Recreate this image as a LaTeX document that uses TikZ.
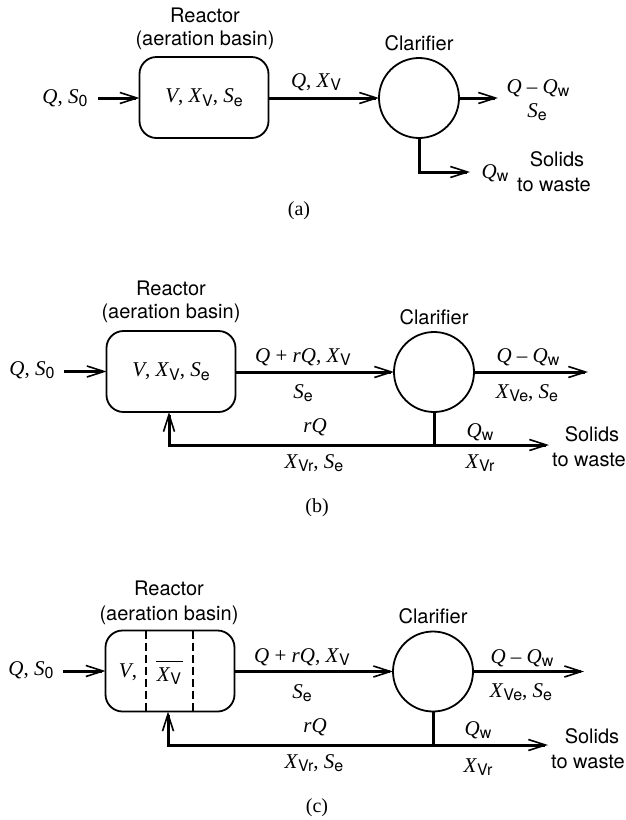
\documentclass[tikz,border=0pt]{standalone}
\usepackage{fontspec}
\setmainfont{Liberation Serif}
\newfontfamily\hv{TeX Gyre Heros}
\usetikzlibrary{arrows.meta}
\newcommand{\mi}[1]{\textit{#1}}
\newcommand{\subs}[1]{\raisebox{-3.5pt}{\hv\fontsize{16}{16}\selectfont #1}}
\newcommand{\obar}[1]{\setbox0\hbox{#1}\rlap{\hspace{-1pt}\raisebox{19pt}{\rule{\dimexpr\wd0+3pt\relax}{1.3pt}}}\box0}
\tikzset{
  every node/.style={inner sep=0pt, outer sep=0pt},
  ml/.style={font=\fontsize{21}{24}\selectfont},
  sl/.style={font=\hv\fontsize{20}{22}\selectfont},
  partlabel/.style={font=\fontsize{20}{22}\selectfont},
  reactor/.style={draw, line width=1.8pt, rounded corners=17pt, minimum width=129pt, minimum height=81pt},
  clar/.style={draw, circle, line width=1.8pt, minimum size=80pt},
  flow/.style={line width=3pt, -{Straight Barb[length=17pt,width=11pt,line width=1.6pt]}},
  pipe/.style={line width=3pt},
  part/.style={dash pattern=on 8pt off 4pt, line width=1.3pt}
}
\begin{document}
\begin{tikzpicture}[x=1pt,y=-1pt]
\useasboundingbox (0,0) rectangle (626,820);
% ---------------- (a)
\node[reactor, ml] (ra) at (204,97.5) {\mi{V}, \mi{X}\subs{V}, \mi{S}\subs{e}};
\node[sl] (ra1) at (205,15) {Reactor};
\node[sl] (ra2) at (205,40) {(aeration basin)};
\node[clar] (ca) at (419,98) {};
\node[sl] (cal) at (419,43) {Clarifier};
\coordinate (ia) at (98,98);
\node[ml] (qa) at (65,98) {\mi{Q}, \mi{S}\subs{0}};
\draw[flow] (ia) -- (ra.west |- ia);
\draw[flow] (ra.east |- ca) -- (ca.west);
\node[ml] (la1) at (316,82) {\mi{Q}, \mi{X}\subs{V}};
\coordinate (oa) at (498,98);
\draw[flow] (ca.east) -- (oa);
\node[ml] (la2) at (538,88) {\mi{Q} – \mi{Q}\subs{w}};
\node[ml] (la3) at (537,112) {\mi{S}\subs{e}};
\coordinate (wa) at (470,172);
\draw[flow] (ca.south) |- (wa);
\node[ml] (la4) at (495,173) {\mi{Q}\subs{w}};
\node[sl] (sa1) at (557,159) {Solids};
\node[sl] (sa2) at (554,185) {to waste};
\node[partlabel] (pa) at (299,211) {(a)};
% ---------------- (b)
\node[reactor, ml] (rb) at (171,371.5) {\mi{V}, \mi{X}\subs{V}, \mi{S}\subs{e}};
\node[sl] (rb1) at (171,288) {Reactor};
\node[sl] (rb2) at (171,313) {(aeration basin)};
\node[clar] (cb) at (434,372) {};
\node[sl] (cbl) at (434,317) {Clarifier};
\coordinate (ib) at (64,371.5);
\node[ml] (qb) at (32,370) {\mi{Q}, \mi{S}\subs{0}};
\draw[flow] (ib) -- (rb.west);
\draw[flow] (rb.east |- cb) -- (cb.west);
\node[ml] (lb1) at (303,357) {\mi{Q} + \mi{rQ}, \mi{X}\subs{V}};
\node[ml] (lb2) at (303,393) {\mi{S}\subs{e}};
\coordinate (ob) at (588,372);
\draw[flow] (cb.east) -- (ob);
\node[ml] (lb3) at (528,357) {\mi{Q} – \mi{Q}\subs{w}};
\node[ml] (lb4) at (527,393) {\mi{X}\subs{Ve}, \mi{S}\subs{e}};
\coordinate (jb) at (434,445);
\coordinate (kb) at (169,445);
\coordinate (wb) at (549,445);
\draw[pipe] (cb.south) -- (jb);
\draw[flow] (jb) -- (kb) -- (kb |- rb.south);
\draw[flow] (kb) -- (wb);
\node[ml] (lb5) at (315,427) {\mi{rQ}};
\node[ml] (lb6) at (314,463) {\mi{X}\subs{Vr}, \mi{S}\subs{e}};
\node[ml] (lb7) at (480,432) {\mi{Q}\subs{w}};
\node[ml] (lb8) at (480,463) {\mi{X}\subs{Vr}};
\node[sl] (sb1) at (592,434) {Solids};
\node[sl] (sb2) at (589,460) {to waste};
\node[partlabel] (pb) at (317,508) {(b)};
% ---------------- (c)
\node[reactor] (rc) at (170,671) {};
\coordinate (d1) at (146,671);
\coordinate (d2) at (193,671);
\draw[part] (d1 |- rc.north) -- (d1 |- rc.south);
\draw[part] (d2 |- rc.north) -- (d2 |- rc.south);
\node[ml] (vc) at (128,672) {\mi{V},};
\node[ml] (xc) at (169,673) {\obar{\mi{X}\subs{V}}};
\node[sl] (rc1) at (169,588) {Reactor};
\node[sl] (rc2) at (169,615) {(aeration basin)};
\node[clar] (cc) at (433,671.5) {};
\node[sl] (ccl) at (433,616) {Clarifier};
\coordinate (ic) at (63,671);
\node[ml] (qc) at (31,670) {\mi{Q}, \mi{S}\subs{0}};
\draw[flow] (ic) -- (rc.west);
\draw[flow] (rc.east |- cc) -- (cc.west);
\node[ml] (lc1) at (302,657) {\mi{Q} + \mi{rQ}, \mi{X}\subs{V}};
\node[ml] (lc2) at (302,693) {\mi{S}\subs{e}};
\coordinate (oc) at (584,671.5);
\draw[flow] (cc.east) -- (oc);
\node[ml] (lc3) at (522,658) {\mi{Q} – \mi{Q}\subs{w}};
\node[ml] (lc4) at (521,692) {\mi{X}\subs{Ve}, \mi{S}\subs{e}};
\coordinate (jc) at (433,745);
\coordinate (kc) at (168,745);
\coordinate (wc) at (548,745);
\draw[pipe] (cc.south) -- (jc);
\draw[flow] (jc) -- (kc) -- (kc |- rc.south);
\draw[flow] (kc) -- (wc);
\node[ml] (lc5) at (315,727) {\mi{rQ}};
\node[ml] (lc6) at (314,763) {\mi{X}\subs{Vr}, \mi{S}\subs{e}};
\node[ml] (lc7) at (478,730) {\mi{Q}\subs{w}};
\node[ml] (lc8) at (478,767) {\mi{X}\subs{Vr}};
\node[sl] (sc1) at (592,736) {Solids};
\node[sl] (sc2) at (588,762) {to waste};
\node[partlabel] (pc) at (317,808) {(c)};
\end{tikzpicture}
\end{document}
